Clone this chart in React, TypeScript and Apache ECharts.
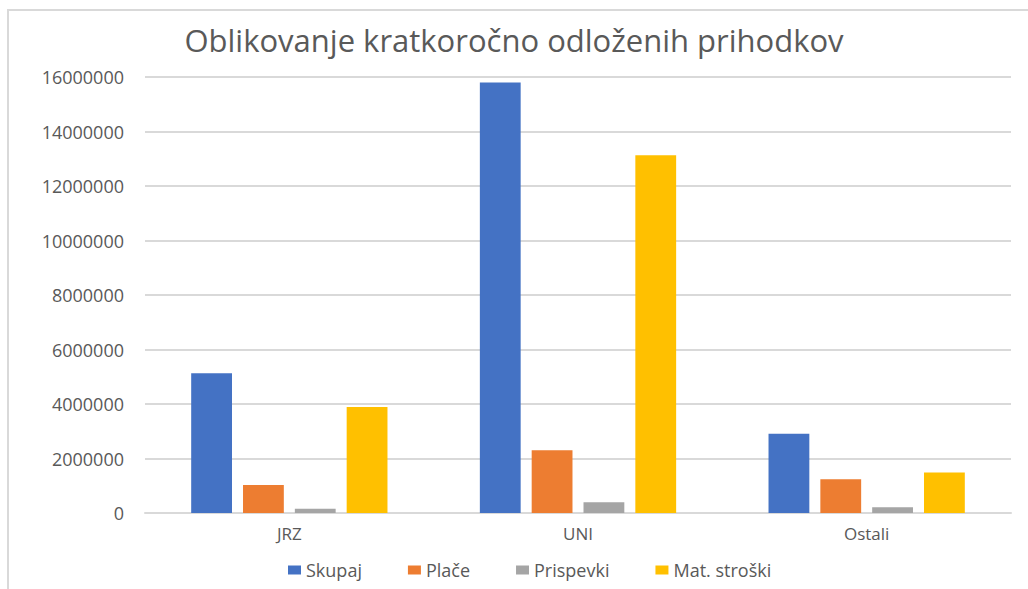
import React, { useEffect, useRef } from "react";
import * as echarts from "echarts";

const title = "Oblikovanje kratkoročno odloženih prihodkov";
const categories = ["JRZ", "UNI", "Ostali"];
const seriesNames = ["Skupaj", "Plače", "Prispevki", "Mat. stroški"];
const skupaj = [5130000, 15800000, 2910000];
const place = [1030000, 2300000, 1240000];
const prispevki = [160000, 390000, 210000];
const matStroski = [3890000, 13130000, 1490000];
const colors = ["#4472C4", "#ED7D31", "#A5A5A5", "#FFC000"];

const FONT = "Open Sans";

export default function App() {
  const ref = useRef<HTMLDivElement>(null);
  useEffect(() => {
    if (!ref.current) return;
    const chart = echarts.init(ref.current, undefined, { renderer: "svg" });
    const values = [skupaj, place, prispevki, matStroski];
    chart.setOption({
      animation: false,
      backgroundColor: "#ffffff",
      color: colors,
      title: {
        text: title,
        left: "center",
        top: 19,
        textStyle: { fontFamily: FONT, fontSize: 31, fontWeight: "normal", color: "#595959" },
      },
      graphic: [
        {
          type: "rect",
          shape: { x: 8, y: 10, width: 1040, height: 600 },
          style: { fill: "none", stroke: "#d9d9d9", lineWidth: 2 },
          silent: true,
        },
      ],
      legend: {
        bottom: 5,
        left: 283,
        itemWidth: 13,
        itemHeight: 9,
        itemGap: 46,
        icon: "rect",
        textStyle: { fontFamily: FONT, fontSize: 18, color: "#595959" },
        data: seriesNames,
      },
      grid: { left: 145, right: 17, top: 77, bottom: 76, containLabel: false },
      xAxis: {
        type: "category",
        data: categories,
        axisTick: { show: false },
        axisLine: { lineStyle: { color: "#d9d9d9", width: 2 } },
        axisLabel: { fontFamily: FONT, fontSize: 17, color: "#595959", margin: 12 },
      },
      yAxis: {
        type: "value",
        min: 0,
        max: 16000000,
        interval: 2000000,
        axisLine: { show: false },
        axisTick: { show: false },
        splitLine: { lineStyle: { color: "#d9d9d9", width: 2 } },
        axisLabel: {
          fontFamily: FONT,
          fontSize: 18,
          color: "#595959",
          margin: 21,
          formatter: (v: number) => String(v),
        },
      },
      series: seriesNames.map((name, i) => ({
        name,
        type: "bar",
        data: values[i],
        barGap: "27%",
        barCategoryGap: "32%",
        itemStyle: { color: colors[i] },
      })),
    });
    return () => chart.dispose();
  }, []);
  return (
    <div
      ref={ref}
      style={{ position: "fixed", left: 0, top: 0, width: 1028, height: 589 }}
    />
  );
}
